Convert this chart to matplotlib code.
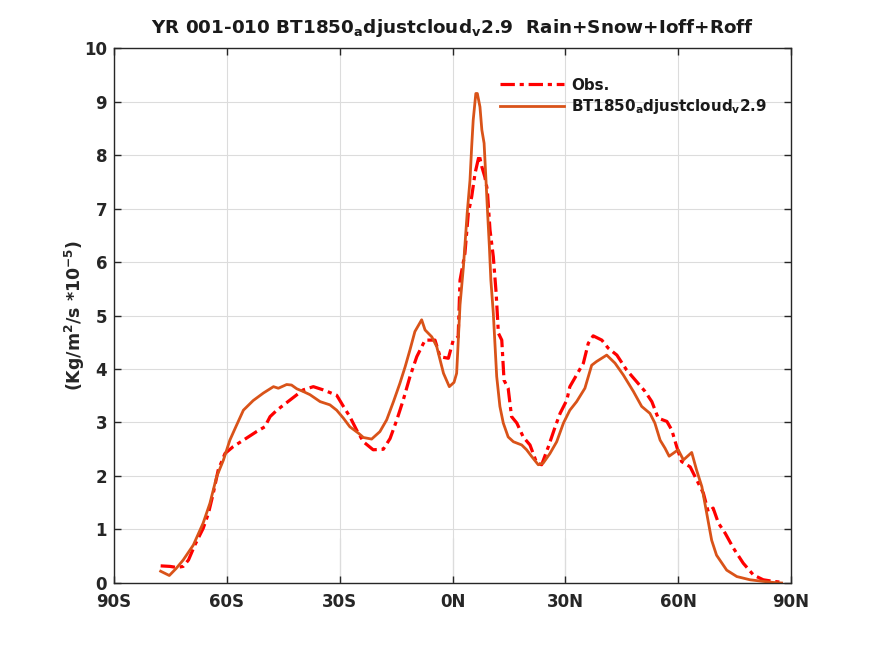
import numpy as np
import matplotlib
matplotlib.use('Agg')
import matplotlib.pyplot as plt

plt.rcParams['font.family'] = ['DejaVu Sans']
plt.rcParams['font.weight'] = 'bold'
plt.rcParams['mathtext.default'] = 'bf'

# zonal mean precipitation
obs_lat = [-77.6, -75.1, -73.3, -71.6, -70.2, -68.5, -66.3, -64.9, -63.6, -62.3,
           -60.5, -58.3, -55.6, -52.1, -49.9, -48.5, -46.7, -43.2, -39.7, -37.0,
           -34.4, -30.8, -29.0, -27.3, -25.5, -23.7, -21.1, -18.4, -16.6, -14.8,
           -13.1, -11.3, -9.5, -7.3, -4.65, -3.3, -1.1, 0.2, 1.5, 2.0,
           3.3, 4.2, 5.1, 6.0, 7.1, 7.8, 8.6, 9.25, 9.97, 10.85,
           11.6, 12.2, 13.1, 13.7, 14.8, 15.7, 17.1, 18.8, 20.6, 22.4,
           23.7, 25.5, 27.3, 28.6, 30.4, 31.2, 33.0, 34.8, 36.1, 37.4,
           39.7, 41.4, 43.7, 46.3, 49.0, 51.2, 53.0, 54.7, 57.0, 58.3,
           59.6, 60.9, 63.2, 64.9, 66.7, 68.0, 69.3, 70.7, 72.5, 74.7,
           77.3, 80.0, 82.6, 85.3, 88.0]
obs_val = [0.32, 0.31, 0.29, 0.31, 0.43, 0.71, 1.02, 1.30, 1.68, 2.11,
           2.42, 2.55, 2.67, 2.83, 2.92, 3.11, 3.23, 3.42, 3.61, 3.67,
           3.61, 3.51, 3.30, 3.11, 2.86, 2.64, 2.49, 2.50, 2.70, 3.05,
           3.42, 3.86, 4.23, 4.54, 4.54, 4.23, 4.20, 4.54, 4.60, 5.66,
           6.16, 6.91, 7.22, 7.66, 8.00, 7.78, 7.59, 7.35, 6.60, 6.10,
           5.42, 4.67, 4.54, 3.79, 3.64, 3.11, 2.99, 2.73, 2.58, 2.24,
           2.21, 2.55, 2.92, 3.17, 3.42, 3.67, 3.89, 4.11, 4.48, 4.62,
           4.54, 4.39, 4.26, 3.98, 3.76, 3.58, 3.39, 3.08, 3.02, 2.86,
           2.55, 2.27, 2.17, 1.93, 1.68, 1.33, 1.40, 1.12, 0.93, 0.65,
           0.37, 0.15, 0.06, 0.03, 0.01]

mod_lat = [-77.6, -75.3, -73.5, -71.6, -68.9, -66.3, -64.5, -62.7, -60.9, -59.2,
           -57.8, -55.6, -53.0, -50.3, -47.6, -46.3, -44.1, -42.8, -41.4, -39.7,
           -37.9, -35.2, -32.6, -30.8, -29.0, -27.3, -25.0, -23.7, -21.5, -19.3,
           -17.5, -15.7, -14.0, -12.6, -11.3, -10.0, -8.2, -7.3, -5.5, -4.2,
           -3.3, -2.4, -0.85, 0.4, 1.1, 2.0, 2.9, 3.9, 4.65, 5.1,
           5.5, 6.2, 6.6, 7.3, 7.8, 8.4, 8.9, 9.25, 9.8, 10.2,
           10.85, 11.3, 11.75, 12.6, 13.5, 14.8, 16.2, 18.4, 19.7, 21.1,
           22.8, 24.1, 25.9, 27.7, 29.5, 31.2, 33.0, 35.2, 37.0, 38.3,
           41.0, 43.2, 45.4, 48.1, 50.3, 52.5, 53.8, 55.2, 56.5, 57.6,
           60.0, 61.4, 63.6, 64.9, 66.3, 67.6, 68.9, 70.2, 72.9, 75.6,
           79.1, 82.6, 85.3, 87.5]
mod_val = [0.22, 0.14, 0.27, 0.43, 0.71, 1.12, 1.49, 1.99, 2.30, 2.67,
           2.89, 3.23, 3.41, 3.55, 3.67, 3.64, 3.71, 3.70, 3.63, 3.58,
           3.52, 3.39, 3.33, 3.23, 3.08, 2.92, 2.80, 2.72, 2.69, 2.83,
           3.05, 3.39, 3.73, 4.04, 4.36, 4.70, 4.92, 4.73, 4.60, 4.42,
           4.17, 3.92, 3.67, 3.75, 3.92, 5.20, 5.91, 6.91, 7.53, 8.16,
           8.65, 9.15, 9.15, 8.90, 8.47, 8.22, 7.53, 7.03, 6.29, 5.66,
           5.04, 4.45, 3.86, 3.30, 2.99, 2.73, 2.64, 2.58, 2.49, 2.36,
           2.21, 2.24, 2.42, 2.64, 2.99, 3.23, 3.39, 3.64, 4.07, 4.14,
           4.26, 4.11, 3.89, 3.58, 3.30, 3.17, 2.99, 2.67, 2.52, 2.37,
           2.49, 2.30, 2.44, 2.11, 1.80, 1.30, 0.80, 0.52, 0.24, 0.12,
           0.06, 0.03, 0.01, 0.0]

xticks = [-90, -60, -30, 0, 30, 60, 90]
xticklabels = ['90S', '60S', '30S', '0N', '30N', '60N', '90N']
yticks = list(range(0, 11))

case = 'BT1850$_a$djustcloud$_v$2.9'

fig = plt.figure(figsize=(8.75, 6.56), dpi=100)
ax = fig.add_axes([0.1303, 0.1113, 0.7737, 0.8155])

ax.plot(obs_lat, obs_val, color='#ff0000', lw=2.3,
        linestyle=(0, (4.5, 1.5, 1.3, 1.5)), label='Obs.')
ax.plot(mod_lat, mod_val, color='#d95319', lw=2.0, label=case)

ax.set_xlim(-90, 90)
ax.set_ylim(0, 10)
ax.set_xticks(xticks)
ax.set_xticklabels(xticklabels)
ax.set_yticks(yticks)

ax.grid(True, color='#dcdcdc', lw=0.8)
ax.set_axisbelow(True)
# darker lower part of the vertical grid lines
ax.vlines(xticks[1:-1], 0, 0.085, transform=ax.get_xaxis_transform(),
          color='#b4b4b4', lw=0.8, zorder=0.5)

ax.tick_params(direction='in', top=True, right=True, length=5, width=1,
               color='#262626', labelsize=12, labelcolor='#262626', pad=5)
ax.tick_params(axis='x', pad=7)
for s in ax.spines.values():
    s.set_color('#262626')
    s.set_linewidth(1)

ax.set_title('YR 001-010 ' + case + '  Rain+Snow+Ioff+Roff',
             fontsize=13.2, fontweight='bold', color='#1a1a1a', pad=11)
ax.set_ylabel('(Kg/m$^2$/s *10$^{-5}$)', fontsize=12.5, fontweight='bold',
              color='#262626', labelpad=-2)

leg = ax.legend(loc='upper right', bbox_to_anchor=(0.985, 0.97), frameon=False,
                fontsize=10.9, handlelength=4.2, handletextpad=0.5,
                labelspacing=0.3)
for t in leg.get_texts():
    t.set_color('#1a1a1a')

fig.savefig('out.png', dpi=100)
